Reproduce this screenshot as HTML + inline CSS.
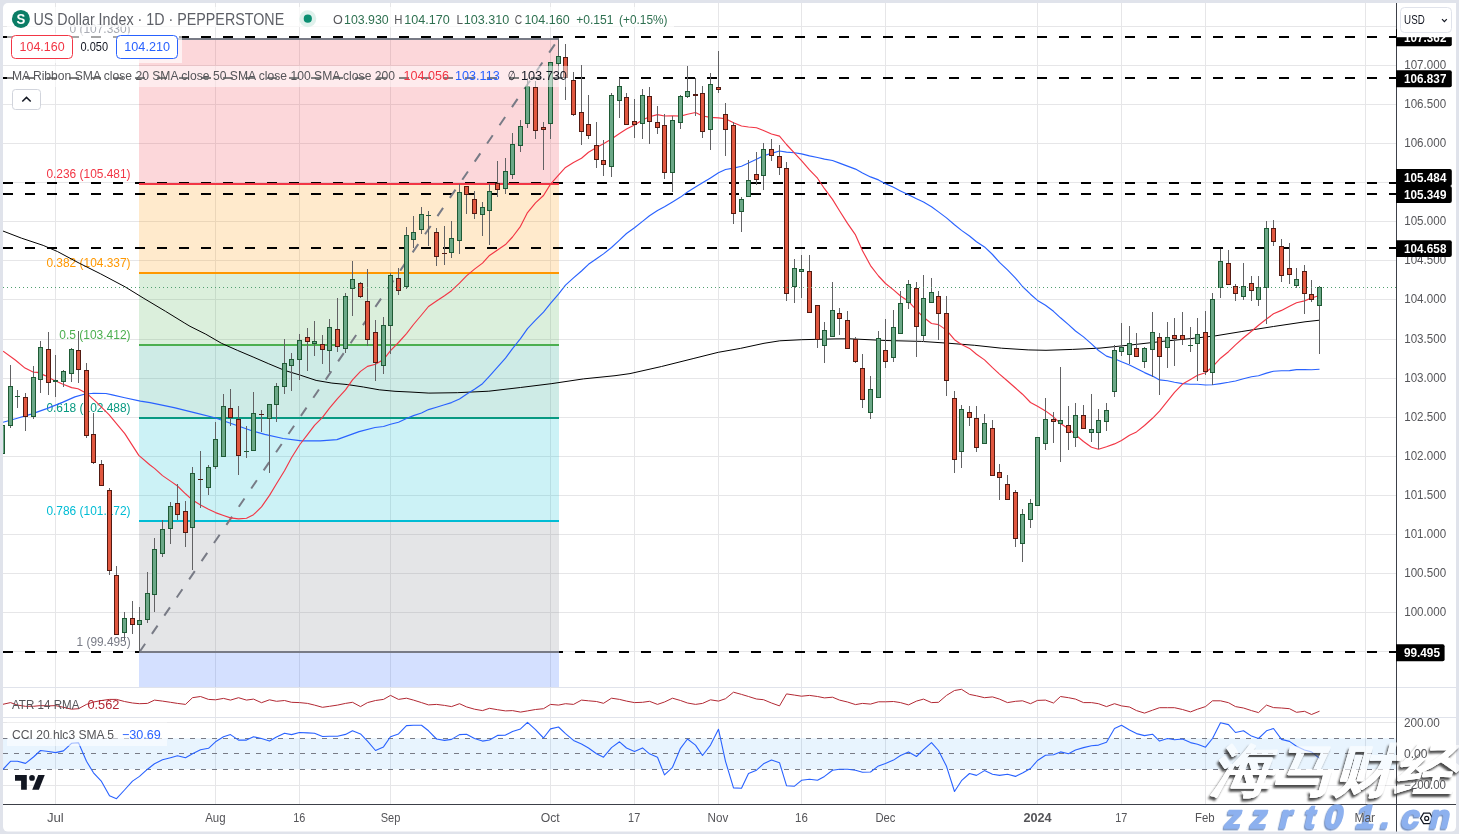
<!DOCTYPE html>
<html><head><meta charset="utf-8"><title>US Dollar Index</title>
<style>
html,body{margin:0;padding:0;background:#e0e3eb;width:1459px;height:834px;overflow:hidden}
svg{position:absolute;left:0;top:0;display:block}
text{font-family:'Liberation Sans', Arial, sans-serif}
</style></head><body>
<svg width="1459" height="834" viewBox="0 0 1459 834">
<defs>
<clipPath id="cm"><rect x="3" y="3" width="1393" height="684"/></clipPath>
<clipPath id="ca"><rect x="3" y="688" width="1393" height="29"/></clipPath>
<clipPath id="cc"><rect x="3" y="718" width="1393" height="86"/></clipPath>
<filter id="wsh" x="-10%" y="-20%" width="130%" height="150%"><feGaussianBlur in="SourceAlpha" stdDeviation="1.1" result="b"/><feOffset in="b" dx="-2.5" dy="3" result="o"/><feComposite in="o" in2="SourceAlpha" operator="out" result="s"/><feFlood flood-color="#3a3a3a" flood-opacity="0.9" result="c"/><feComposite in="c" in2="s" operator="in" result="sh"/><feComponentTransfer in="SourceGraphic" result="g"><feFuncA type="linear" slope="0.62"/></feComponentTransfer><feMerge><feMergeNode in="sh"/><feMergeNode in="g"/></feMerge></filter>
<filter id="bsh" x="-10%" y="-10%" width="130%" height="140%"><feDropShadow dx="-1.2" dy="1.5" stdDeviation="0.7" flood-color="#4d6fae" flood-opacity="0.75"/></filter>
</defs>
<rect x="3" y="3" width="1453" height="828.6" rx="5" fill="#ffffff"/>

<line x1="55.5" y1="3" x2="55.5" y2="804" stroke="#e6e6e8" stroke-width="1"/>
<line x1="215.5" y1="3" x2="215.5" y2="804" stroke="#e6e6e8" stroke-width="1"/>
<line x1="299.5" y1="3" x2="299.5" y2="804" stroke="#e6e6e8" stroke-width="1"/>
<line x1="390.5" y1="3" x2="390.5" y2="804" stroke="#e6e6e8" stroke-width="1"/>
<line x1="550.5" y1="3" x2="550.5" y2="804" stroke="#e6e6e8" stroke-width="1"/>
<line x1="634.5" y1="3" x2="634.5" y2="804" stroke="#e6e6e8" stroke-width="1"/>
<line x1="718.5" y1="3" x2="718.5" y2="804" stroke="#e6e6e8" stroke-width="1"/>
<line x1="801.5" y1="3" x2="801.5" y2="804" stroke="#e6e6e8" stroke-width="1"/>
<line x1="885.5" y1="3" x2="885.5" y2="804" stroke="#e6e6e8" stroke-width="1"/>
<line x1="1037.5" y1="3" x2="1037.5" y2="804" stroke="#e6e6e8" stroke-width="1"/>
<line x1="1121.5" y1="3" x2="1121.5" y2="804" stroke="#e6e6e8" stroke-width="1"/>
<line x1="1205.5" y1="3" x2="1205.5" y2="804" stroke="#e6e6e8" stroke-width="1"/>
<line x1="1365.5" y1="3" x2="1365.5" y2="804" stroke="#e6e6e8" stroke-width="1"/>
<line x1="3" y1="651.5" x2="1396" y2="651.5" stroke="#e6e6e8" stroke-width="1"/>
<line x1="3" y1="612.5" x2="1396" y2="612.5" stroke="#e6e6e8" stroke-width="1"/>
<line x1="3" y1="573.5" x2="1396" y2="573.5" stroke="#e6e6e8" stroke-width="1"/>
<line x1="3" y1="534.5" x2="1396" y2="534.5" stroke="#e6e6e8" stroke-width="1"/>
<line x1="3" y1="495.5" x2="1396" y2="495.5" stroke="#e6e6e8" stroke-width="1"/>
<line x1="3" y1="456.5" x2="1396" y2="456.5" stroke="#e6e6e8" stroke-width="1"/>
<line x1="3" y1="417.5" x2="1396" y2="417.5" stroke="#e6e6e8" stroke-width="1"/>
<line x1="3" y1="378.5" x2="1396" y2="378.5" stroke="#e6e6e8" stroke-width="1"/>
<line x1="3" y1="339.5" x2="1396" y2="339.5" stroke="#e6e6e8" stroke-width="1"/>
<line x1="3" y1="299.5" x2="1396" y2="299.5" stroke="#e6e6e8" stroke-width="1"/>
<line x1="3" y1="260.5" x2="1396" y2="260.5" stroke="#e6e6e8" stroke-width="1"/>
<line x1="3" y1="221.5" x2="1396" y2="221.5" stroke="#e6e6e8" stroke-width="1"/>
<line x1="3" y1="182.5" x2="1396" y2="182.5" stroke="#e6e6e8" stroke-width="1"/>
<line x1="3" y1="143.5" x2="1396" y2="143.5" stroke="#e6e6e8" stroke-width="1"/>
<line x1="3" y1="104.5" x2="1396" y2="104.5" stroke="#e6e6e8" stroke-width="1"/>
<line x1="3" y1="65.5" x2="1396" y2="65.5" stroke="#e6e6e8" stroke-width="1"/>
<line x1="3" y1="26.5" x2="1396" y2="26.5" stroke="#e6e6e8" stroke-width="1"/>
<line x1="3" y1="722.5" x2="1396" y2="722.5" stroke="#e6e6e8" stroke-width="1"/>
<line x1="3" y1="785.5" x2="1396" y2="785.5" stroke="#e6e6e8" stroke-width="1"/>
<g clip-path="url(#cm)">
<rect x="139" y="39" width="420" height="145" fill="#f23645" fill-opacity="0.2"/>
<rect x="139" y="184" width="420" height="89" fill="#ff9800" fill-opacity="0.2"/>
<rect x="139" y="273" width="420" height="72" fill="#4caf50" fill-opacity="0.2"/>
<rect x="139" y="345" width="420" height="73" fill="#089981" fill-opacity="0.2"/>
<rect x="139" y="418" width="420" height="103" fill="#00bcd4" fill-opacity="0.2"/>
<rect x="139" y="521" width="420" height="131" fill="#787b86" fill-opacity="0.2"/>
<rect x="139" y="652" width="420" height="348" fill="#2962ff" fill-opacity="0.2"/>
<text x="69.5" y="32.7" font-size="12.4" fill="#a9acb4" textLength="61.1" lengthAdjust="spacingAndGlyphs">0 (107.330)</text>
<text x="46.4" y="177.7" font-size="12.4" fill="#f23645" textLength="84.2" lengthAdjust="spacingAndGlyphs">0.236 (105.481)</text>
<text x="46.4" y="266.7" font-size="12.4" fill="#ff9800" textLength="84.2" lengthAdjust="spacingAndGlyphs">0.382 (104.337)</text>
<text x="59.3" y="338.7" font-size="12.4" fill="#4caf50" textLength="71.3" lengthAdjust="spacingAndGlyphs">0.5 (103.412)</text>
<text x="46.4" y="411.7" font-size="12.4" fill="#089981" textLength="84.2" lengthAdjust="spacingAndGlyphs">0.618 (102.488)</text>
<text x="46.4" y="514.7" font-size="12.4" fill="#00bcd4" textLength="84.2" lengthAdjust="spacingAndGlyphs">0.786 (101.172)</text>
<text x="76.6" y="645.7" font-size="12.4" fill="#787b86" textLength="54.0" lengthAdjust="spacingAndGlyphs">1 (99.495)</text>
</g>
<g clip-path="url(#cc)">
<rect x="3" y="738.2" width="1393" height="31" fill="#2196f3" fill-opacity="0.1"/>
<line x1="3" y1="738.5" x2="1396" y2="738.5" stroke="#787b86" stroke-width="1" stroke-dasharray="5 6"/>
<line x1="3" y1="753.5" x2="1396" y2="753.5" stroke="#787b86" stroke-width="1" stroke-dasharray="5 6"/>
<line x1="3" y1="769.5" x2="1396" y2="769.5" stroke="#787b86" stroke-width="1" stroke-dasharray="5 6"/>
</g>
<g clip-path="url(#cm)">
<line x1="3" y1="37" x2="1396" y2="37" stroke="#000" stroke-width="2" stroke-dasharray="10 12"/>
<line x1="3" y1="78" x2="1396" y2="78" stroke="#000" stroke-width="2" stroke-dasharray="10 12"/>
<line x1="3" y1="183" x2="1396" y2="183" stroke="#000" stroke-width="2" stroke-dasharray="10 12"/>
<line x1="3" y1="194" x2="1396" y2="194" stroke="#000" stroke-width="2" stroke-dasharray="10 12"/>
<line x1="3" y1="248" x2="1396" y2="248" stroke="#000" stroke-width="2" stroke-dasharray="10 12"/>
<line x1="3" y1="652" x2="1396" y2="652" stroke="#000" stroke-width="2" stroke-dasharray="10 12"/>
</g>
<g clip-path="url(#cm)">
<line x1="139" y1="39" x2="559" y2="39" stroke="#787b86" stroke-width="2"/>
<line x1="139" y1="184" x2="559" y2="184" stroke="#f23645" stroke-width="2"/>
<line x1="139" y1="273" x2="559" y2="273" stroke="#ff9800" stroke-width="2"/>
<line x1="139" y1="345" x2="559" y2="345" stroke="#4caf50" stroke-width="2"/>
<line x1="139" y1="418" x2="559" y2="418" stroke="#089981" stroke-width="2"/>
<line x1="139" y1="521" x2="559" y2="521" stroke="#00bcd4" stroke-width="2"/>
<line x1="139" y1="652" x2="559" y2="652" stroke="#787b86" stroke-width="2"/>
<line x1="139.5" y1="652" x2="558.5" y2="39" stroke="#787b86" stroke-width="2" stroke-dasharray="10 12"/>
</g>
<g clip-path="url(#cm)" fill="none" stroke-linejoin="round">
<polyline points="2.9,231.0 21.6,238.2 43.2,245.4 57.6,251.6 79.1,263.1 100.7,273.9 125.2,286.9 143.9,298.4 165.5,311.3 184.2,322.8 190.0,326.3 205.8,334.2 221.5,343.3 237.3,350.3 253.1,357.0 268.8,363.8 284.6,370.4 300.4,375.2 316.1,380.4 331.9,383.1 347.7,384.6 363.4,387.0 379.2,389.8 395.0,391.3 410.0,392.0 428.9,393.1 457.3,392.7 488.8,391.2 520.4,387.5 551.9,383.6 583.4,378.9 615.0,375.7 630.0,373.6 661.5,366.5 693.1,358.6 718.3,352.3 740.4,348.4 764.0,343.3 779.8,340.8 801.8,339.7 835.0,338.9 850.0,338.8 885.6,340.5 921.3,341.4 948.0,343.2 974.7,345.3 1001.5,348.2 1028.2,349.9 1046.0,350.3 1072.7,349.4 1100.0,348.1 1131.5,344.9 1163.1,341.3 1194.6,338.2 1215.1,335.9 1241.9,331.5 1273.4,326.5 1305.0,321.8 1319.5,320.2" stroke="#000000" stroke-width="1"/>
<polyline points="3.1,422.3 15.6,418.8 31.2,414.1 46.8,408.6 62.4,402.4 74.9,396.9 84.2,394.3 93.6,393.3 106.0,393.5 112.3,394.9 124.8,397.7 140.4,401.1 150.0,402.6 174.1,407.6 196.3,413.1 214.8,417.8 233.3,424.2 251.8,430.7 264.7,434.4 283.2,438.5 301.7,440.9 320.2,440.9 336.9,439.6 359.1,431.6 375.0,427.5 383.5,426.5 390.5,424.3 398.5,422.2 406.5,418.5 413.5,415.6 421.5,413.0 428.5,409.6 436.5,407.2 444.5,404.8 451.5,402.6 459.5,399.0 466.5,394.2 474.5,389.2 482.5,383.7 489.5,376.1 497.5,367.2 505.5,358.2 512.5,348.6 520.5,338.7 527.5,328.6 535.5,320.2 543.5,312.2 550.5,303.4 558.5,294.2 565.5,285.1 573.5,277.9 581.5,271.0 588.5,264.3 596.5,258.8 603.5,253.9 611.5,247.5 619.5,240.1 626.5,233.5 634.5,227.8 642.5,221.4 649.5,215.7 657.5,210.5 664.5,206.7 672.5,201.9 680.5,197.1 687.5,192.0 695.5,187.1 702.5,182.8 710.5,177.9 718.5,172.8 725.5,169.5 733.5,168.1 741.5,166.2 748.5,163.0 756.5,159.3 763.5,155.8 771.5,153.4 779.5,151.0 786.5,152.1 794.5,152.8 801.5,153.9 809.5,155.9 817.5,157.5 824.5,159.1 832.5,160.5 839.5,163.1 847.5,166.1 855.5,169.1 862.5,172.9 870.5,176.9 878.5,179.9 885.5,183.7 893.5,187.3 900.5,190.9 908.5,194.8 916.5,198.8 923.5,202.1 931.5,206.7 938.5,211.9 946.5,217.9 954.5,224.8 961.5,230.4 969.5,236.0 976.5,241.8 984.5,246.9 992.5,254.5 999.5,262.4 1007.5,269.9 1015.5,278.1 1022.5,286.5 1030.5,294.2 1037.5,300.4 1045.5,305.3 1053.5,311.3 1060.5,317.8 1068.5,324.6 1075.5,331.0 1083.5,336.9 1091.5,343.9 1098.5,350.5 1106.5,356.1 1114.5,358.8 1121.5,361.8 1129.5,365.0 1136.5,368.6 1144.5,372.6 1152.5,376.1 1159.5,379.9 1167.5,380.8 1174.5,382.2 1182.5,383.6 1190.5,384.3 1197.5,384.2 1205.5,385.0 1212.5,384.8 1220.5,383.6 1228.5,382.3 1235.5,381.0 1243.5,378.7 1251.5,376.7 1258.5,375.7 1266.5,373.1 1273.5,371.3 1281.5,370.8 1289.5,370.6 1296.5,369.6 1304.5,369.5 1311.5,369.7 1319.5,369.2" stroke="#2962ff" stroke-width="1.15"/>
<polyline points="3.1,351.2 15.6,360.3 25.0,368.1 33.5,372.3 37.4,372.4 45.2,375.6 53.0,379.8 62.4,384.0 71.7,387.6 78.0,388.7 87.3,393.8 96.7,402.4 109.2,414.9 124.8,433.6 138.8,455.4 149.7,464.8 154.5,468.4 162.5,475.6 170.5,481.1 177.5,486.0 185.5,493.8 192.5,500.1 200.5,504.9 208.5,509.3 215.5,512.6 223.5,515.5 230.5,517.9 238.5,518.9 246.5,518.3 253.5,514.7 261.5,506.9 269.5,495.4 276.5,483.8 284.5,470.7 291.5,457.7 299.5,445.0 307.5,434.7 314.5,425.3 322.5,417.4 329.5,408.1 337.5,398.7 345.5,389.9 352.5,379.9 360.5,371.4 367.5,366.4 375.5,364.2 383.5,359.6 390.5,350.6 398.5,342.5 406.5,333.6 413.5,324.5 421.5,315.0 428.5,306.5 436.5,301.1 444.5,295.8 451.5,290.7 459.5,283.2 466.5,275.9 474.5,269.1 482.5,263.1 489.5,255.4 497.5,250.0 505.5,244.6 512.5,237.0 520.5,226.3 527.5,212.6 535.5,202.8 543.5,195.5 550.5,184.1 558.5,175.2 565.5,167.4 573.5,162.4 581.5,158.2 588.5,152.2 596.5,147.5 603.5,143.8 611.5,139.0 619.5,133.5 626.5,129.1 634.5,125.0 642.5,120.1 649.5,116.8 657.5,114.6 664.5,116.0 672.5,115.7 680.5,116.1 687.5,114.2 695.5,112.5 702.5,116.0 710.5,117.4 718.5,117.9 725.5,118.7 733.5,122.8 741.5,126.0 748.5,127.0 756.5,127.8 763.5,130.5 771.5,134.0 779.5,136.1 786.5,144.5 794.5,153.2 801.5,160.6 809.5,169.8 817.5,178.2 824.5,188.7 832.5,199.4 839.5,210.8 847.5,223.4 855.5,234.9 862.5,250.7 870.5,265.6 878.5,276.0 885.5,283.5 893.5,289.9 900.5,296.0 908.5,301.3 916.5,310.1 923.5,317.3 931.5,323.5 938.5,324.6 946.5,330.1 954.5,339.7 961.5,344.5 969.5,348.4 976.5,354.2 984.5,359.9 992.5,367.7 999.5,374.1 1007.5,381.0 1015.5,388.0 1022.5,394.2 1030.5,402.5 1037.5,406.3 1045.5,410.9 1053.5,416.8 1060.5,423.6 1068.5,428.8 1075.5,434.7 1083.5,441.5 1091.5,447.3 1098.5,449.3 1106.5,446.8 1114.5,443.9 1121.5,440.4 1129.5,435.2 1136.5,431.9 1144.5,425.5 1152.5,418.3 1159.5,411.1 1167.5,401.1 1174.5,392.3 1182.5,384.1 1190.5,379.5 1197.5,375.3 1205.5,372.8 1212.5,366.8 1220.5,358.2 1228.5,351.7 1235.5,344.9 1243.5,337.8 1251.5,331.3 1258.5,325.2 1266.5,319.0 1273.5,313.8 1281.5,310.4 1289.5,306.3 1296.5,302.8 1304.5,300.9 1311.5,298.0 1319.5,295.5" stroke="#f23645" stroke-width="1.15"/>
</g>
<g clip-path="url(#cm)" shape-rendering="crispEdges">
<rect x="2" y="420" width="1" height="5" fill="#626264"/>
<rect x="2" y="454" width="1" height="3" fill="#626264"/>
<rect x="0" y="425" width="5" height="29" fill="#1f5a35"/>
<rect x="1" y="426" width="3" height="27" fill="#6ba887"/>
<rect x="10" y="365" width="1" height="21" fill="#626264"/>
<rect x="10" y="426" width="1" height="2" fill="#626264"/>
<rect x="8" y="386" width="5" height="40" fill="#1f5a35"/>
<rect x="9" y="387" width="3" height="38" fill="#6ba887"/>
<rect x="17" y="390" width="1" height="6" fill="#626264"/>
<rect x="17" y="397" width="1" height="11" fill="#626264"/>
<rect x="15" y="396" width="5" height="1" fill="#1f5a35"/>
<rect x="25" y="393" width="1" height="4" fill="#626264"/>
<rect x="25" y="417" width="1" height="14" fill="#626264"/>
<rect x="23" y="397" width="5" height="20" fill="#521a12"/>
<rect x="24" y="398" width="3" height="18" fill="#e0573f"/>
<rect x="33" y="366" width="1" height="11" fill="#626264"/>
<rect x="33" y="417" width="1" height="2" fill="#626264"/>
<rect x="31" y="377" width="5" height="40" fill="#1f5a35"/>
<rect x="32" y="378" width="3" height="38" fill="#6ba887"/>
<rect x="40" y="341" width="1" height="6" fill="#626264"/>
<rect x="40" y="380" width="1" height="13" fill="#626264"/>
<rect x="38" y="347" width="5" height="33" fill="#1f5a35"/>
<rect x="39" y="348" width="3" height="31" fill="#6ba887"/>
<rect x="48" y="332" width="1" height="17" fill="#626264"/>
<rect x="48" y="383" width="1" height="12" fill="#626264"/>
<rect x="46" y="349" width="5" height="34" fill="#521a12"/>
<rect x="47" y="350" width="3" height="32" fill="#e0573f"/>
<rect x="55" y="355" width="1" height="25" fill="#626264"/>
<rect x="55" y="382" width="1" height="15" fill="#626264"/>
<rect x="53" y="380" width="5" height="2" fill="#1f5a35"/>
<rect x="63" y="370" width="1" height="1" fill="#626264"/>
<rect x="63" y="382" width="1" height="5" fill="#626264"/>
<rect x="61" y="371" width="5" height="11" fill="#1f5a35"/>
<rect x="62" y="372" width="3" height="9" fill="#6ba887"/>
<rect x="71" y="348" width="1" height="1" fill="#626264"/>
<rect x="71" y="374" width="1" height="8" fill="#626264"/>
<rect x="69" y="349" width="5" height="25" fill="#1f5a35"/>
<rect x="70" y="350" width="3" height="23" fill="#6ba887"/>
<rect x="78" y="331" width="1" height="19" fill="#626264"/>
<rect x="78" y="370" width="1" height="13" fill="#626264"/>
<rect x="76" y="350" width="5" height="20" fill="#521a12"/>
<rect x="77" y="351" width="3" height="18" fill="#e0573f"/>
<rect x="86" y="363" width="1" height="7" fill="#626264"/>
<rect x="86" y="436" width="1" height="2" fill="#626264"/>
<rect x="84" y="370" width="5" height="66" fill="#521a12"/>
<rect x="85" y="371" width="3" height="64" fill="#e0573f"/>
<rect x="93" y="413" width="1" height="21" fill="#626264"/>
<rect x="93" y="463" width="1" height="1" fill="#626264"/>
<rect x="91" y="434" width="5" height="29" fill="#521a12"/>
<rect x="92" y="435" width="3" height="27" fill="#e0573f"/>
<rect x="101" y="460" width="1" height="4" fill="#626264"/>
<rect x="99" y="464" width="5" height="22" fill="#521a12"/>
<rect x="100" y="465" width="3" height="20" fill="#e0573f"/>
<rect x="109" y="488" width="1" height="2" fill="#626264"/>
<rect x="109" y="571" width="1" height="4" fill="#626264"/>
<rect x="107" y="490" width="5" height="81" fill="#521a12"/>
<rect x="108" y="491" width="3" height="79" fill="#e0573f"/>
<rect x="116" y="566" width="1" height="9" fill="#626264"/>
<rect x="114" y="575" width="5" height="60" fill="#521a12"/>
<rect x="115" y="576" width="3" height="58" fill="#e0573f"/>
<rect x="124" y="612" width="1" height="6" fill="#626264"/>
<rect x="124" y="633" width="1" height="7" fill="#626264"/>
<rect x="122" y="618" width="5" height="15" fill="#1f5a35"/>
<rect x="123" y="619" width="3" height="13" fill="#6ba887"/>
<rect x="132" y="601" width="1" height="17" fill="#626264"/>
<rect x="132" y="625" width="1" height="9" fill="#626264"/>
<rect x="130" y="618" width="5" height="7" fill="#521a12"/>
<rect x="131" y="619" width="3" height="5" fill="#e0573f"/>
<rect x="139" y="607" width="1" height="13" fill="#626264"/>
<rect x="139" y="625" width="1" height="27" fill="#626264"/>
<rect x="137" y="620" width="5" height="5" fill="#1f5a35"/>
<rect x="138" y="621" width="3" height="3" fill="#6ba887"/>
<rect x="147" y="572" width="1" height="21" fill="#626264"/>
<rect x="147" y="620" width="1" height="3" fill="#626264"/>
<rect x="145" y="593" width="5" height="27" fill="#1f5a35"/>
<rect x="146" y="594" width="3" height="25" fill="#6ba887"/>
<rect x="154" y="538" width="1" height="11" fill="#626264"/>
<rect x="154" y="595" width="1" height="17" fill="#626264"/>
<rect x="152" y="549" width="5" height="46" fill="#1f5a35"/>
<rect x="153" y="550" width="3" height="44" fill="#6ba887"/>
<rect x="162" y="520" width="1" height="9" fill="#626264"/>
<rect x="162" y="554" width="1" height="3" fill="#626264"/>
<rect x="160" y="529" width="5" height="25" fill="#1f5a35"/>
<rect x="161" y="530" width="3" height="23" fill="#6ba887"/>
<rect x="170" y="502" width="1" height="4" fill="#626264"/>
<rect x="170" y="529" width="1" height="15" fill="#626264"/>
<rect x="168" y="506" width="5" height="23" fill="#1f5a35"/>
<rect x="169" y="507" width="3" height="21" fill="#6ba887"/>
<rect x="177" y="484" width="1" height="19" fill="#626264"/>
<rect x="177" y="515" width="1" height="5" fill="#626264"/>
<rect x="175" y="503" width="5" height="12" fill="#521a12"/>
<rect x="176" y="504" width="3" height="10" fill="#e0573f"/>
<rect x="185" y="501" width="1" height="10" fill="#626264"/>
<rect x="185" y="533" width="1" height="14" fill="#626264"/>
<rect x="183" y="511" width="5" height="22" fill="#521a12"/>
<rect x="184" y="512" width="3" height="20" fill="#e0573f"/>
<rect x="192" y="467" width="1" height="6" fill="#626264"/>
<rect x="192" y="528" width="1" height="42" fill="#626264"/>
<rect x="190" y="473" width="5" height="55" fill="#1f5a35"/>
<rect x="191" y="474" width="3" height="53" fill="#6ba887"/>
<rect x="200" y="451" width="1" height="28" fill="#626264"/>
<rect x="200" y="480" width="1" height="28" fill="#626264"/>
<rect x="198" y="479" width="5" height="1" fill="#521a12"/>
<rect x="208" y="465" width="1" height="2" fill="#626264"/>
<rect x="208" y="488" width="1" height="7" fill="#626264"/>
<rect x="206" y="467" width="5" height="21" fill="#1f5a35"/>
<rect x="207" y="468" width="3" height="19" fill="#6ba887"/>
<rect x="215" y="422" width="1" height="17" fill="#626264"/>
<rect x="215" y="467" width="1" height="2" fill="#626264"/>
<rect x="213" y="439" width="5" height="28" fill="#1f5a35"/>
<rect x="214" y="440" width="3" height="26" fill="#6ba887"/>
<rect x="223" y="394" width="1" height="12" fill="#626264"/>
<rect x="221" y="406" width="5" height="51" fill="#1f5a35"/>
<rect x="222" y="407" width="3" height="49" fill="#6ba887"/>
<rect x="230" y="389" width="1" height="19" fill="#626264"/>
<rect x="230" y="418" width="1" height="8" fill="#626264"/>
<rect x="228" y="408" width="5" height="10" fill="#521a12"/>
<rect x="229" y="409" width="3" height="8" fill="#e0573f"/>
<rect x="238" y="406" width="1" height="13" fill="#626264"/>
<rect x="238" y="456" width="1" height="19" fill="#626264"/>
<rect x="236" y="419" width="5" height="37" fill="#521a12"/>
<rect x="237" y="420" width="3" height="35" fill="#e0573f"/>
<rect x="246" y="426" width="1" height="25" fill="#626264"/>
<rect x="246" y="452" width="1" height="6" fill="#626264"/>
<rect x="244" y="451" width="5" height="1" fill="#1f5a35"/>
<rect x="253" y="392" width="1" height="21" fill="#626264"/>
<rect x="251" y="413" width="5" height="38" fill="#1f5a35"/>
<rect x="252" y="414" width="3" height="36" fill="#6ba887"/>
<rect x="261" y="410" width="1" height="4" fill="#626264"/>
<rect x="261" y="415" width="1" height="17" fill="#626264"/>
<rect x="259" y="414" width="5" height="1" fill="#521a12"/>
<rect x="269" y="419" width="1" height="54" fill="#626264"/>
<rect x="267" y="404" width="5" height="15" fill="#1f5a35"/>
<rect x="268" y="405" width="3" height="13" fill="#6ba887"/>
<rect x="276" y="383" width="1" height="3" fill="#626264"/>
<rect x="276" y="405" width="1" height="17" fill="#626264"/>
<rect x="274" y="386" width="5" height="19" fill="#1f5a35"/>
<rect x="275" y="387" width="3" height="17" fill="#6ba887"/>
<rect x="284" y="339" width="1" height="24" fill="#626264"/>
<rect x="284" y="387" width="1" height="7" fill="#626264"/>
<rect x="282" y="363" width="5" height="24" fill="#1f5a35"/>
<rect x="283" y="364" width="3" height="22" fill="#6ba887"/>
<rect x="291" y="353" width="1" height="6" fill="#626264"/>
<rect x="291" y="366" width="1" height="25" fill="#626264"/>
<rect x="289" y="359" width="5" height="7" fill="#1f5a35"/>
<rect x="290" y="360" width="3" height="5" fill="#6ba887"/>
<rect x="299" y="334" width="1" height="6" fill="#626264"/>
<rect x="299" y="360" width="1" height="20" fill="#626264"/>
<rect x="297" y="340" width="5" height="20" fill="#1f5a35"/>
<rect x="298" y="341" width="3" height="18" fill="#6ba887"/>
<rect x="307" y="328" width="1" height="9" fill="#626264"/>
<rect x="307" y="342" width="1" height="29" fill="#626264"/>
<rect x="305" y="337" width="5" height="5" fill="#521a12"/>
<rect x="306" y="338" width="3" height="3" fill="#e0573f"/>
<rect x="314" y="321" width="1" height="20" fill="#626264"/>
<rect x="314" y="344" width="1" height="12" fill="#626264"/>
<rect x="312" y="341" width="5" height="3" fill="#1f5a35"/>
<rect x="313" y="342" width="3" height="1" fill="#6ba887"/>
<rect x="322" y="335" width="1" height="9" fill="#626264"/>
<rect x="322" y="350" width="1" height="14" fill="#626264"/>
<rect x="320" y="344" width="5" height="6" fill="#521a12"/>
<rect x="321" y="345" width="3" height="4" fill="#e0573f"/>
<rect x="329" y="319" width="1" height="8" fill="#626264"/>
<rect x="329" y="351" width="1" height="21" fill="#626264"/>
<rect x="327" y="327" width="5" height="24" fill="#1f5a35"/>
<rect x="328" y="328" width="3" height="22" fill="#6ba887"/>
<rect x="337" y="298" width="1" height="31" fill="#626264"/>
<rect x="337" y="347" width="1" height="5" fill="#626264"/>
<rect x="335" y="329" width="5" height="18" fill="#521a12"/>
<rect x="336" y="330" width="3" height="16" fill="#e0573f"/>
<rect x="345" y="293" width="1" height="3" fill="#626264"/>
<rect x="345" y="349" width="1" height="4" fill="#626264"/>
<rect x="343" y="296" width="5" height="53" fill="#1f5a35"/>
<rect x="344" y="297" width="3" height="51" fill="#6ba887"/>
<rect x="352" y="261" width="1" height="18" fill="#626264"/>
<rect x="352" y="289" width="1" height="27" fill="#626264"/>
<rect x="350" y="279" width="5" height="10" fill="#1f5a35"/>
<rect x="351" y="280" width="3" height="8" fill="#6ba887"/>
<rect x="360" y="282" width="1" height="1" fill="#626264"/>
<rect x="360" y="297" width="1" height="1" fill="#626264"/>
<rect x="358" y="283" width="5" height="14" fill="#521a12"/>
<rect x="359" y="284" width="3" height="12" fill="#e0573f"/>
<rect x="367" y="269" width="1" height="32" fill="#626264"/>
<rect x="367" y="340" width="1" height="6" fill="#626264"/>
<rect x="365" y="301" width="5" height="39" fill="#521a12"/>
<rect x="366" y="302" width="3" height="37" fill="#e0573f"/>
<rect x="375" y="320" width="1" height="12" fill="#626264"/>
<rect x="375" y="363" width="1" height="18" fill="#626264"/>
<rect x="373" y="332" width="5" height="31" fill="#521a12"/>
<rect x="374" y="333" width="3" height="29" fill="#e0573f"/>
<rect x="383" y="317" width="1" height="8" fill="#626264"/>
<rect x="383" y="366" width="1" height="8" fill="#626264"/>
<rect x="381" y="325" width="5" height="41" fill="#1f5a35"/>
<rect x="382" y="326" width="3" height="39" fill="#6ba887"/>
<rect x="390" y="273" width="1" height="2" fill="#626264"/>
<rect x="390" y="326" width="1" height="28" fill="#626264"/>
<rect x="388" y="275" width="5" height="51" fill="#1f5a35"/>
<rect x="389" y="276" width="3" height="49" fill="#6ba887"/>
<rect x="398" y="268" width="1" height="10" fill="#626264"/>
<rect x="398" y="291" width="1" height="4" fill="#626264"/>
<rect x="396" y="278" width="5" height="13" fill="#521a12"/>
<rect x="397" y="279" width="3" height="11" fill="#e0573f"/>
<rect x="406" y="227" width="1" height="8" fill="#626264"/>
<rect x="406" y="287" width="1" height="2" fill="#626264"/>
<rect x="404" y="235" width="5" height="52" fill="#1f5a35"/>
<rect x="405" y="236" width="3" height="50" fill="#6ba887"/>
<rect x="413" y="216" width="1" height="16" fill="#626264"/>
<rect x="413" y="240" width="1" height="8" fill="#626264"/>
<rect x="411" y="232" width="5" height="8" fill="#1f5a35"/>
<rect x="412" y="233" width="3" height="6" fill="#6ba887"/>
<rect x="421" y="207" width="1" height="7" fill="#626264"/>
<rect x="421" y="230" width="1" height="4" fill="#626264"/>
<rect x="419" y="214" width="5" height="16" fill="#1f5a35"/>
<rect x="420" y="215" width="3" height="14" fill="#6ba887"/>
<rect x="428" y="211" width="1" height="4" fill="#626264"/>
<rect x="428" y="216" width="1" height="30" fill="#626264"/>
<rect x="426" y="215" width="5" height="1" fill="#1f5a35"/>
<rect x="436" y="228" width="1" height="4" fill="#626264"/>
<rect x="436" y="257" width="1" height="9" fill="#626264"/>
<rect x="434" y="232" width="5" height="25" fill="#521a12"/>
<rect x="435" y="233" width="3" height="23" fill="#e0573f"/>
<rect x="444" y="226" width="1" height="27" fill="#626264"/>
<rect x="444" y="254" width="1" height="11" fill="#626264"/>
<rect x="442" y="253" width="5" height="1" fill="#521a12"/>
<rect x="451" y="221" width="1" height="17" fill="#626264"/>
<rect x="451" y="253" width="1" height="5" fill="#626264"/>
<rect x="449" y="238" width="5" height="15" fill="#1f5a35"/>
<rect x="450" y="239" width="3" height="13" fill="#6ba887"/>
<rect x="459" y="184" width="1" height="8" fill="#626264"/>
<rect x="459" y="241" width="1" height="13" fill="#626264"/>
<rect x="457" y="192" width="5" height="49" fill="#1f5a35"/>
<rect x="458" y="193" width="3" height="47" fill="#6ba887"/>
<rect x="466" y="195" width="1" height="19" fill="#626264"/>
<rect x="464" y="186" width="5" height="9" fill="#521a12"/>
<rect x="465" y="187" width="3" height="7" fill="#e0573f"/>
<rect x="474" y="191" width="1" height="8" fill="#626264"/>
<rect x="474" y="214" width="1" height="5" fill="#626264"/>
<rect x="472" y="199" width="5" height="15" fill="#521a12"/>
<rect x="473" y="200" width="3" height="13" fill="#e0573f"/>
<rect x="482" y="202" width="1" height="5" fill="#626264"/>
<rect x="482" y="215" width="1" height="21" fill="#626264"/>
<rect x="480" y="207" width="5" height="8" fill="#1f5a35"/>
<rect x="481" y="208" width="3" height="6" fill="#6ba887"/>
<rect x="489" y="184" width="1" height="7" fill="#626264"/>
<rect x="489" y="211" width="1" height="34" fill="#626264"/>
<rect x="487" y="191" width="5" height="20" fill="#1f5a35"/>
<rect x="488" y="192" width="3" height="18" fill="#6ba887"/>
<rect x="497" y="161" width="1" height="22" fill="#626264"/>
<rect x="497" y="190" width="1" height="7" fill="#626264"/>
<rect x="495" y="183" width="5" height="7" fill="#521a12"/>
<rect x="496" y="184" width="3" height="5" fill="#e0573f"/>
<rect x="505" y="158" width="1" height="13" fill="#626264"/>
<rect x="505" y="189" width="1" height="5" fill="#626264"/>
<rect x="503" y="171" width="5" height="18" fill="#1f5a35"/>
<rect x="504" y="172" width="3" height="16" fill="#6ba887"/>
<rect x="512" y="133" width="1" height="11" fill="#626264"/>
<rect x="512" y="175" width="1" height="4" fill="#626264"/>
<rect x="510" y="144" width="5" height="31" fill="#1f5a35"/>
<rect x="511" y="145" width="3" height="29" fill="#6ba887"/>
<rect x="520" y="120" width="1" height="6" fill="#626264"/>
<rect x="520" y="146" width="1" height="6" fill="#626264"/>
<rect x="518" y="126" width="5" height="20" fill="#1f5a35"/>
<rect x="519" y="127" width="3" height="18" fill="#6ba887"/>
<rect x="527" y="78" width="1" height="8" fill="#626264"/>
<rect x="527" y="124" width="1" height="4" fill="#626264"/>
<rect x="525" y="86" width="5" height="38" fill="#1f5a35"/>
<rect x="526" y="87" width="3" height="36" fill="#6ba887"/>
<rect x="535" y="81" width="1" height="6" fill="#626264"/>
<rect x="535" y="131" width="1" height="8" fill="#626264"/>
<rect x="533" y="87" width="5" height="44" fill="#521a12"/>
<rect x="534" y="88" width="3" height="42" fill="#e0573f"/>
<rect x="543" y="122" width="1" height="5" fill="#626264"/>
<rect x="543" y="130" width="1" height="40" fill="#626264"/>
<rect x="541" y="127" width="5" height="3" fill="#521a12"/>
<rect x="542" y="128" width="3" height="1" fill="#e0573f"/>
<rect x="550" y="124" width="1" height="15" fill="#626264"/>
<rect x="548" y="62" width="5" height="62" fill="#1f5a35"/>
<rect x="549" y="63" width="3" height="60" fill="#6ba887"/>
<rect x="558" y="39" width="1" height="17" fill="#626264"/>
<rect x="558" y="64" width="1" height="14" fill="#626264"/>
<rect x="556" y="56" width="5" height="8" fill="#1f5a35"/>
<rect x="557" y="57" width="3" height="6" fill="#6ba887"/>
<rect x="565" y="44" width="1" height="13" fill="#626264"/>
<rect x="565" y="78" width="1" height="22" fill="#626264"/>
<rect x="563" y="57" width="5" height="21" fill="#521a12"/>
<rect x="564" y="58" width="3" height="19" fill="#e0573f"/>
<rect x="573" y="72" width="1" height="8" fill="#626264"/>
<rect x="573" y="115" width="1" height="1" fill="#626264"/>
<rect x="571" y="80" width="5" height="35" fill="#521a12"/>
<rect x="572" y="81" width="3" height="33" fill="#e0573f"/>
<rect x="581" y="65" width="1" height="47" fill="#626264"/>
<rect x="581" y="132" width="1" height="13" fill="#626264"/>
<rect x="579" y="112" width="5" height="20" fill="#521a12"/>
<rect x="580" y="113" width="3" height="18" fill="#e0573f"/>
<rect x="588" y="95" width="1" height="29" fill="#626264"/>
<rect x="588" y="136" width="1" height="3" fill="#626264"/>
<rect x="586" y="124" width="5" height="12" fill="#521a12"/>
<rect x="587" y="125" width="3" height="10" fill="#e0573f"/>
<rect x="596" y="122" width="1" height="23" fill="#626264"/>
<rect x="596" y="160" width="1" height="8" fill="#626264"/>
<rect x="594" y="145" width="5" height="15" fill="#521a12"/>
<rect x="595" y="146" width="3" height="13" fill="#e0573f"/>
<rect x="603" y="140" width="1" height="20" fill="#626264"/>
<rect x="603" y="165" width="1" height="11" fill="#626264"/>
<rect x="601" y="160" width="5" height="5" fill="#521a12"/>
<rect x="602" y="161" width="3" height="3" fill="#e0573f"/>
<rect x="611" y="93" width="1" height="2" fill="#626264"/>
<rect x="611" y="167" width="1" height="10" fill="#626264"/>
<rect x="609" y="95" width="5" height="72" fill="#1f5a35"/>
<rect x="610" y="96" width="3" height="70" fill="#6ba887"/>
<rect x="619" y="78" width="1" height="8" fill="#626264"/>
<rect x="619" y="101" width="1" height="17" fill="#626264"/>
<rect x="617" y="86" width="5" height="15" fill="#1f5a35"/>
<rect x="618" y="87" width="3" height="13" fill="#6ba887"/>
<rect x="626" y="93" width="1" height="4" fill="#626264"/>
<rect x="624" y="97" width="5" height="28" fill="#521a12"/>
<rect x="625" y="98" width="3" height="26" fill="#e0573f"/>
<rect x="634" y="99" width="1" height="22" fill="#626264"/>
<rect x="634" y="125" width="1" height="13" fill="#626264"/>
<rect x="632" y="121" width="5" height="4" fill="#521a12"/>
<rect x="633" y="122" width="3" height="2" fill="#e0573f"/>
<rect x="642" y="89" width="1" height="6" fill="#626264"/>
<rect x="642" y="124" width="1" height="15" fill="#626264"/>
<rect x="640" y="95" width="5" height="29" fill="#1f5a35"/>
<rect x="641" y="96" width="3" height="27" fill="#6ba887"/>
<rect x="649" y="87" width="1" height="9" fill="#626264"/>
<rect x="649" y="122" width="1" height="22" fill="#626264"/>
<rect x="647" y="96" width="5" height="26" fill="#521a12"/>
<rect x="648" y="97" width="3" height="24" fill="#e0573f"/>
<rect x="657" y="106" width="1" height="16" fill="#626264"/>
<rect x="657" y="128" width="1" height="6" fill="#626264"/>
<rect x="655" y="122" width="5" height="6" fill="#521a12"/>
<rect x="656" y="123" width="3" height="4" fill="#e0573f"/>
<rect x="664" y="114" width="1" height="11" fill="#626264"/>
<rect x="664" y="173" width="1" height="6" fill="#626264"/>
<rect x="662" y="125" width="5" height="48" fill="#521a12"/>
<rect x="663" y="126" width="3" height="46" fill="#e0573f"/>
<rect x="672" y="116" width="1" height="4" fill="#626264"/>
<rect x="672" y="173" width="1" height="19" fill="#626264"/>
<rect x="670" y="120" width="5" height="53" fill="#1f5a35"/>
<rect x="671" y="121" width="3" height="51" fill="#6ba887"/>
<rect x="680" y="95" width="1" height="1" fill="#626264"/>
<rect x="680" y="123" width="1" height="6" fill="#626264"/>
<rect x="678" y="96" width="5" height="27" fill="#1f5a35"/>
<rect x="679" y="97" width="3" height="25" fill="#6ba887"/>
<rect x="687" y="66" width="1" height="25" fill="#626264"/>
<rect x="687" y="97" width="1" height="1" fill="#626264"/>
<rect x="685" y="91" width="5" height="6" fill="#1f5a35"/>
<rect x="686" y="92" width="3" height="4" fill="#6ba887"/>
<rect x="695" y="78" width="1" height="16" fill="#626264"/>
<rect x="695" y="96" width="1" height="20" fill="#626264"/>
<rect x="693" y="94" width="5" height="2" fill="#521a12"/>
<rect x="702" y="86" width="1" height="7" fill="#626264"/>
<rect x="702" y="132" width="1" height="6" fill="#626264"/>
<rect x="700" y="93" width="5" height="39" fill="#521a12"/>
<rect x="701" y="94" width="3" height="37" fill="#e0573f"/>
<rect x="710" y="73" width="1" height="11" fill="#626264"/>
<rect x="710" y="130" width="1" height="20" fill="#626264"/>
<rect x="708" y="84" width="5" height="46" fill="#1f5a35"/>
<rect x="709" y="85" width="3" height="44" fill="#6ba887"/>
<rect x="718" y="51" width="1" height="36" fill="#626264"/>
<rect x="718" y="90" width="1" height="3" fill="#626264"/>
<rect x="716" y="87" width="5" height="3" fill="#521a12"/>
<rect x="717" y="88" width="3" height="1" fill="#e0573f"/>
<rect x="725" y="103" width="1" height="11" fill="#626264"/>
<rect x="725" y="130" width="1" height="26" fill="#626264"/>
<rect x="723" y="114" width="5" height="16" fill="#521a12"/>
<rect x="724" y="115" width="3" height="14" fill="#e0573f"/>
<rect x="733" y="122" width="1" height="3" fill="#626264"/>
<rect x="733" y="214" width="1" height="10" fill="#626264"/>
<rect x="731" y="125" width="5" height="89" fill="#521a12"/>
<rect x="732" y="126" width="3" height="87" fill="#e0573f"/>
<rect x="741" y="197" width="1" height="2" fill="#626264"/>
<rect x="741" y="212" width="1" height="20" fill="#626264"/>
<rect x="739" y="199" width="5" height="13" fill="#1f5a35"/>
<rect x="740" y="200" width="3" height="11" fill="#6ba887"/>
<rect x="748" y="160" width="1" height="20" fill="#626264"/>
<rect x="746" y="180" width="5" height="17" fill="#1f5a35"/>
<rect x="747" y="181" width="3" height="15" fill="#6ba887"/>
<rect x="756" y="152" width="1" height="22" fill="#626264"/>
<rect x="756" y="180" width="1" height="5" fill="#626264"/>
<rect x="754" y="174" width="5" height="6" fill="#521a12"/>
<rect x="755" y="175" width="3" height="4" fill="#e0573f"/>
<rect x="763" y="143" width="1" height="6" fill="#626264"/>
<rect x="763" y="176" width="1" height="14" fill="#626264"/>
<rect x="761" y="149" width="5" height="27" fill="#1f5a35"/>
<rect x="762" y="150" width="3" height="25" fill="#6ba887"/>
<rect x="771" y="139" width="1" height="10" fill="#626264"/>
<rect x="771" y="156" width="1" height="5" fill="#626264"/>
<rect x="769" y="149" width="5" height="7" fill="#521a12"/>
<rect x="770" y="150" width="3" height="5" fill="#e0573f"/>
<rect x="779" y="145" width="1" height="11" fill="#626264"/>
<rect x="779" y="168" width="1" height="7" fill="#626264"/>
<rect x="777" y="156" width="5" height="12" fill="#521a12"/>
<rect x="778" y="157" width="3" height="10" fill="#e0573f"/>
<rect x="786" y="162" width="1" height="6" fill="#626264"/>
<rect x="786" y="294" width="1" height="7" fill="#626264"/>
<rect x="784" y="168" width="5" height="126" fill="#521a12"/>
<rect x="785" y="169" width="3" height="124" fill="#e0573f"/>
<rect x="794" y="259" width="1" height="9" fill="#626264"/>
<rect x="794" y="287" width="1" height="16" fill="#626264"/>
<rect x="792" y="268" width="5" height="19" fill="#1f5a35"/>
<rect x="793" y="269" width="3" height="17" fill="#6ba887"/>
<rect x="801" y="255" width="1" height="14" fill="#626264"/>
<rect x="801" y="272" width="1" height="26" fill="#626264"/>
<rect x="799" y="269" width="5" height="3" fill="#1f5a35"/>
<rect x="800" y="270" width="3" height="1" fill="#6ba887"/>
<rect x="809" y="255" width="1" height="16" fill="#626264"/>
<rect x="807" y="271" width="5" height="42" fill="#521a12"/>
<rect x="808" y="272" width="3" height="40" fill="#e0573f"/>
<rect x="817" y="340" width="1" height="8" fill="#626264"/>
<rect x="815" y="305" width="5" height="35" fill="#521a12"/>
<rect x="816" y="306" width="3" height="33" fill="#e0573f"/>
<rect x="824" y="322" width="1" height="8" fill="#626264"/>
<rect x="824" y="346" width="1" height="17" fill="#626264"/>
<rect x="822" y="330" width="5" height="16" fill="#1f5a35"/>
<rect x="823" y="331" width="3" height="14" fill="#6ba887"/>
<rect x="832" y="282" width="1" height="28" fill="#626264"/>
<rect x="830" y="310" width="5" height="27" fill="#1f5a35"/>
<rect x="831" y="311" width="3" height="25" fill="#6ba887"/>
<rect x="839" y="308" width="1" height="5" fill="#626264"/>
<rect x="839" y="319" width="1" height="16" fill="#626264"/>
<rect x="837" y="313" width="5" height="6" fill="#521a12"/>
<rect x="838" y="314" width="3" height="4" fill="#e0573f"/>
<rect x="847" y="311" width="1" height="9" fill="#626264"/>
<rect x="845" y="320" width="5" height="29" fill="#521a12"/>
<rect x="846" y="321" width="3" height="27" fill="#e0573f"/>
<rect x="855" y="337" width="1" height="2" fill="#626264"/>
<rect x="855" y="362" width="1" height="1" fill="#626264"/>
<rect x="853" y="339" width="5" height="23" fill="#521a12"/>
<rect x="854" y="340" width="3" height="21" fill="#e0573f"/>
<rect x="862" y="354" width="1" height="14" fill="#626264"/>
<rect x="862" y="400" width="1" height="8" fill="#626264"/>
<rect x="860" y="368" width="5" height="32" fill="#521a12"/>
<rect x="861" y="369" width="3" height="30" fill="#e0573f"/>
<rect x="870" y="376" width="1" height="13" fill="#626264"/>
<rect x="870" y="413" width="1" height="6" fill="#626264"/>
<rect x="868" y="389" width="5" height="24" fill="#1f5a35"/>
<rect x="869" y="390" width="3" height="22" fill="#6ba887"/>
<rect x="878" y="331" width="1" height="7" fill="#626264"/>
<rect x="876" y="338" width="5" height="60" fill="#1f5a35"/>
<rect x="877" y="339" width="3" height="58" fill="#6ba887"/>
<rect x="885" y="319" width="1" height="31" fill="#626264"/>
<rect x="885" y="362" width="1" height="6" fill="#626264"/>
<rect x="883" y="350" width="5" height="12" fill="#521a12"/>
<rect x="884" y="351" width="3" height="10" fill="#e0573f"/>
<rect x="893" y="310" width="1" height="17" fill="#626264"/>
<rect x="893" y="358" width="1" height="4" fill="#626264"/>
<rect x="891" y="327" width="5" height="31" fill="#1f5a35"/>
<rect x="892" y="328" width="3" height="29" fill="#6ba887"/>
<rect x="900" y="291" width="1" height="12" fill="#626264"/>
<rect x="898" y="303" width="5" height="31" fill="#1f5a35"/>
<rect x="899" y="304" width="3" height="29" fill="#6ba887"/>
<rect x="908" y="280" width="1" height="4" fill="#626264"/>
<rect x="908" y="303" width="1" height="6" fill="#626264"/>
<rect x="906" y="284" width="5" height="19" fill="#1f5a35"/>
<rect x="907" y="285" width="3" height="17" fill="#6ba887"/>
<rect x="916" y="282" width="1" height="6" fill="#626264"/>
<rect x="916" y="327" width="1" height="30" fill="#626264"/>
<rect x="914" y="288" width="5" height="39" fill="#521a12"/>
<rect x="915" y="289" width="3" height="37" fill="#e0573f"/>
<rect x="923" y="275" width="1" height="23" fill="#626264"/>
<rect x="923" y="336" width="1" height="6" fill="#626264"/>
<rect x="921" y="298" width="5" height="38" fill="#1f5a35"/>
<rect x="922" y="299" width="3" height="36" fill="#6ba887"/>
<rect x="931" y="278" width="1" height="14" fill="#626264"/>
<rect x="929" y="292" width="5" height="11" fill="#1f5a35"/>
<rect x="930" y="293" width="3" height="9" fill="#6ba887"/>
<rect x="938" y="291" width="1" height="5" fill="#626264"/>
<rect x="938" y="314" width="1" height="26" fill="#626264"/>
<rect x="936" y="296" width="5" height="18" fill="#521a12"/>
<rect x="937" y="297" width="3" height="16" fill="#e0573f"/>
<rect x="946" y="296" width="1" height="17" fill="#626264"/>
<rect x="946" y="381" width="1" height="15" fill="#626264"/>
<rect x="944" y="313" width="5" height="68" fill="#521a12"/>
<rect x="945" y="314" width="3" height="66" fill="#e0573f"/>
<rect x="954" y="391" width="1" height="7" fill="#626264"/>
<rect x="954" y="460" width="1" height="13" fill="#626264"/>
<rect x="952" y="398" width="5" height="62" fill="#521a12"/>
<rect x="953" y="399" width="3" height="60" fill="#e0573f"/>
<rect x="961" y="405" width="1" height="4" fill="#626264"/>
<rect x="961" y="452" width="1" height="16" fill="#626264"/>
<rect x="959" y="409" width="5" height="43" fill="#1f5a35"/>
<rect x="960" y="410" width="3" height="41" fill="#6ba887"/>
<rect x="969" y="406" width="1" height="6" fill="#626264"/>
<rect x="969" y="418" width="1" height="8" fill="#626264"/>
<rect x="967" y="412" width="5" height="6" fill="#521a12"/>
<rect x="968" y="413" width="3" height="4" fill="#e0573f"/>
<rect x="976" y="406" width="1" height="12" fill="#626264"/>
<rect x="976" y="448" width="1" height="4" fill="#626264"/>
<rect x="974" y="418" width="5" height="30" fill="#521a12"/>
<rect x="975" y="419" width="3" height="28" fill="#e0573f"/>
<rect x="984" y="414" width="1" height="9" fill="#626264"/>
<rect x="982" y="423" width="5" height="21" fill="#1f5a35"/>
<rect x="983" y="424" width="3" height="19" fill="#6ba887"/>
<rect x="992" y="420" width="1" height="8" fill="#626264"/>
<rect x="990" y="428" width="5" height="48" fill="#521a12"/>
<rect x="991" y="429" width="3" height="46" fill="#e0573f"/>
<rect x="999" y="464" width="1" height="8" fill="#626264"/>
<rect x="999" y="478" width="1" height="22" fill="#626264"/>
<rect x="997" y="472" width="5" height="6" fill="#521a12"/>
<rect x="998" y="473" width="3" height="4" fill="#e0573f"/>
<rect x="1007" y="475" width="1" height="9" fill="#626264"/>
<rect x="1005" y="484" width="5" height="16" fill="#521a12"/>
<rect x="1006" y="485" width="3" height="14" fill="#e0573f"/>
<rect x="1015" y="490" width="1" height="2" fill="#626264"/>
<rect x="1015" y="539" width="1" height="8" fill="#626264"/>
<rect x="1013" y="492" width="5" height="47" fill="#521a12"/>
<rect x="1014" y="493" width="3" height="45" fill="#e0573f"/>
<rect x="1022" y="509" width="1" height="5" fill="#626264"/>
<rect x="1022" y="544" width="1" height="18" fill="#626264"/>
<rect x="1020" y="514" width="5" height="30" fill="#1f5a35"/>
<rect x="1021" y="515" width="3" height="28" fill="#6ba887"/>
<rect x="1030" y="499" width="1" height="4" fill="#626264"/>
<rect x="1030" y="520" width="1" height="8" fill="#626264"/>
<rect x="1028" y="503" width="5" height="17" fill="#1f5a35"/>
<rect x="1029" y="504" width="3" height="15" fill="#6ba887"/>
<rect x="1035" y="437" width="5" height="69" fill="#1f5a35"/>
<rect x="1036" y="438" width="3" height="67" fill="#6ba887"/>
<rect x="1045" y="398" width="1" height="21" fill="#626264"/>
<rect x="1045" y="444" width="1" height="6" fill="#626264"/>
<rect x="1043" y="419" width="5" height="25" fill="#1f5a35"/>
<rect x="1044" y="420" width="3" height="23" fill="#6ba887"/>
<rect x="1053" y="412" width="1" height="7" fill="#626264"/>
<rect x="1053" y="422" width="1" height="21" fill="#626264"/>
<rect x="1051" y="419" width="5" height="3" fill="#521a12"/>
<rect x="1052" y="420" width="3" height="1" fill="#e0573f"/>
<rect x="1060" y="367" width="1" height="53" fill="#626264"/>
<rect x="1060" y="424" width="1" height="38" fill="#626264"/>
<rect x="1058" y="420" width="5" height="4" fill="#1f5a35"/>
<rect x="1059" y="421" width="3" height="2" fill="#6ba887"/>
<rect x="1068" y="406" width="1" height="19" fill="#626264"/>
<rect x="1068" y="433" width="1" height="17" fill="#626264"/>
<rect x="1066" y="425" width="5" height="8" fill="#521a12"/>
<rect x="1067" y="426" width="3" height="6" fill="#e0573f"/>
<rect x="1075" y="403" width="1" height="12" fill="#626264"/>
<rect x="1075" y="438" width="1" height="9" fill="#626264"/>
<rect x="1073" y="415" width="5" height="23" fill="#1f5a35"/>
<rect x="1074" y="416" width="3" height="21" fill="#6ba887"/>
<rect x="1083" y="405" width="1" height="10" fill="#626264"/>
<rect x="1081" y="415" width="5" height="14" fill="#521a12"/>
<rect x="1082" y="416" width="3" height="12" fill="#e0573f"/>
<rect x="1091" y="394" width="1" height="35" fill="#626264"/>
<rect x="1091" y="433" width="1" height="9" fill="#626264"/>
<rect x="1089" y="429" width="5" height="4" fill="#1f5a35"/>
<rect x="1090" y="430" width="3" height="2" fill="#6ba887"/>
<rect x="1098" y="409" width="1" height="11" fill="#626264"/>
<rect x="1098" y="433" width="1" height="16" fill="#626264"/>
<rect x="1096" y="420" width="5" height="13" fill="#1f5a35"/>
<rect x="1097" y="421" width="3" height="11" fill="#6ba887"/>
<rect x="1106" y="403" width="1" height="7" fill="#626264"/>
<rect x="1106" y="422" width="1" height="9" fill="#626264"/>
<rect x="1104" y="410" width="5" height="12" fill="#1f5a35"/>
<rect x="1105" y="411" width="3" height="10" fill="#6ba887"/>
<rect x="1114" y="345" width="1" height="5" fill="#626264"/>
<rect x="1114" y="392" width="1" height="5" fill="#626264"/>
<rect x="1112" y="350" width="5" height="42" fill="#1f5a35"/>
<rect x="1113" y="351" width="3" height="40" fill="#6ba887"/>
<rect x="1121" y="323" width="1" height="24" fill="#626264"/>
<rect x="1121" y="352" width="1" height="4" fill="#626264"/>
<rect x="1119" y="347" width="5" height="5" fill="#1f5a35"/>
<rect x="1120" y="348" width="3" height="3" fill="#6ba887"/>
<rect x="1129" y="326" width="1" height="17" fill="#626264"/>
<rect x="1129" y="355" width="1" height="9" fill="#626264"/>
<rect x="1127" y="343" width="5" height="12" fill="#1f5a35"/>
<rect x="1128" y="344" width="3" height="10" fill="#6ba887"/>
<rect x="1136" y="333" width="1" height="15" fill="#626264"/>
<rect x="1134" y="348" width="5" height="9" fill="#521a12"/>
<rect x="1135" y="349" width="3" height="7" fill="#e0573f"/>
<rect x="1144" y="347" width="1" height="1" fill="#626264"/>
<rect x="1144" y="362" width="1" height="6" fill="#626264"/>
<rect x="1142" y="348" width="5" height="14" fill="#1f5a35"/>
<rect x="1143" y="349" width="3" height="12" fill="#6ba887"/>
<rect x="1152" y="312" width="1" height="20" fill="#626264"/>
<rect x="1152" y="350" width="1" height="27" fill="#626264"/>
<rect x="1150" y="332" width="5" height="18" fill="#1f5a35"/>
<rect x="1151" y="333" width="3" height="16" fill="#6ba887"/>
<rect x="1159" y="333" width="1" height="4" fill="#626264"/>
<rect x="1159" y="357" width="1" height="38" fill="#626264"/>
<rect x="1157" y="337" width="5" height="20" fill="#521a12"/>
<rect x="1158" y="338" width="3" height="18" fill="#e0573f"/>
<rect x="1167" y="322" width="1" height="15" fill="#626264"/>
<rect x="1167" y="348" width="1" height="20" fill="#626264"/>
<rect x="1165" y="337" width="5" height="11" fill="#1f5a35"/>
<rect x="1166" y="338" width="3" height="9" fill="#6ba887"/>
<rect x="1174" y="318" width="1" height="17" fill="#626264"/>
<rect x="1174" y="339" width="1" height="27" fill="#626264"/>
<rect x="1172" y="335" width="5" height="4" fill="#521a12"/>
<rect x="1173" y="336" width="3" height="2" fill="#e0573f"/>
<rect x="1182" y="312" width="1" height="23" fill="#626264"/>
<rect x="1182" y="340" width="1" height="5" fill="#626264"/>
<rect x="1180" y="335" width="5" height="5" fill="#521a12"/>
<rect x="1181" y="336" width="3" height="3" fill="#e0573f"/>
<rect x="1190" y="327" width="1" height="18" fill="#626264"/>
<rect x="1190" y="346" width="1" height="6" fill="#626264"/>
<rect x="1188" y="345" width="5" height="1" fill="#1f5a35"/>
<rect x="1197" y="318" width="1" height="16" fill="#626264"/>
<rect x="1197" y="344" width="1" height="37" fill="#626264"/>
<rect x="1195" y="334" width="5" height="10" fill="#1f5a35"/>
<rect x="1196" y="335" width="3" height="8" fill="#6ba887"/>
<rect x="1205" y="311" width="1" height="21" fill="#626264"/>
<rect x="1205" y="372" width="1" height="3" fill="#626264"/>
<rect x="1203" y="332" width="5" height="40" fill="#521a12"/>
<rect x="1204" y="333" width="3" height="38" fill="#e0573f"/>
<rect x="1212" y="293" width="1" height="6" fill="#626264"/>
<rect x="1212" y="373" width="1" height="12" fill="#626264"/>
<rect x="1210" y="299" width="5" height="74" fill="#1f5a35"/>
<rect x="1211" y="300" width="3" height="72" fill="#6ba887"/>
<rect x="1220" y="249" width="1" height="12" fill="#626264"/>
<rect x="1220" y="288" width="1" height="10" fill="#626264"/>
<rect x="1218" y="261" width="5" height="27" fill="#1f5a35"/>
<rect x="1219" y="262" width="3" height="25" fill="#6ba887"/>
<rect x="1228" y="250" width="1" height="13" fill="#626264"/>
<rect x="1226" y="263" width="5" height="22" fill="#521a12"/>
<rect x="1227" y="264" width="3" height="20" fill="#e0573f"/>
<rect x="1235" y="284" width="1" height="2" fill="#626264"/>
<rect x="1235" y="294" width="1" height="7" fill="#626264"/>
<rect x="1233" y="286" width="5" height="8" fill="#521a12"/>
<rect x="1234" y="287" width="3" height="6" fill="#e0573f"/>
<rect x="1243" y="263" width="1" height="23" fill="#626264"/>
<rect x="1243" y="297" width="1" height="3" fill="#626264"/>
<rect x="1241" y="286" width="5" height="11" fill="#1f5a35"/>
<rect x="1242" y="287" width="3" height="9" fill="#6ba887"/>
<rect x="1251" y="276" width="1" height="7" fill="#626264"/>
<rect x="1251" y="291" width="1" height="10" fill="#626264"/>
<rect x="1249" y="283" width="5" height="8" fill="#521a12"/>
<rect x="1250" y="284" width="3" height="6" fill="#e0573f"/>
<rect x="1258" y="276" width="1" height="11" fill="#626264"/>
<rect x="1258" y="300" width="1" height="6" fill="#626264"/>
<rect x="1256" y="287" width="5" height="13" fill="#1f5a35"/>
<rect x="1257" y="288" width="3" height="11" fill="#6ba887"/>
<rect x="1266" y="221" width="1" height="7" fill="#626264"/>
<rect x="1266" y="288" width="1" height="36" fill="#626264"/>
<rect x="1264" y="228" width="5" height="60" fill="#1f5a35"/>
<rect x="1265" y="229" width="3" height="58" fill="#6ba887"/>
<rect x="1273" y="220" width="1" height="8" fill="#626264"/>
<rect x="1273" y="242" width="1" height="4" fill="#626264"/>
<rect x="1271" y="228" width="5" height="14" fill="#521a12"/>
<rect x="1272" y="229" width="3" height="12" fill="#e0573f"/>
<rect x="1281" y="239" width="1" height="7" fill="#626264"/>
<rect x="1281" y="276" width="1" height="6" fill="#626264"/>
<rect x="1279" y="246" width="5" height="30" fill="#521a12"/>
<rect x="1280" y="247" width="3" height="28" fill="#e0573f"/>
<rect x="1289" y="243" width="1" height="25" fill="#626264"/>
<rect x="1289" y="275" width="1" height="9" fill="#626264"/>
<rect x="1287" y="268" width="5" height="7" fill="#521a12"/>
<rect x="1288" y="269" width="3" height="5" fill="#e0573f"/>
<rect x="1296" y="268" width="1" height="11" fill="#626264"/>
<rect x="1296" y="286" width="1" height="2" fill="#626264"/>
<rect x="1294" y="279" width="5" height="7" fill="#1f5a35"/>
<rect x="1295" y="280" width="3" height="5" fill="#6ba887"/>
<rect x="1304" y="265" width="1" height="6" fill="#626264"/>
<rect x="1304" y="294" width="1" height="20" fill="#626264"/>
<rect x="1302" y="271" width="5" height="23" fill="#521a12"/>
<rect x="1303" y="272" width="3" height="21" fill="#e0573f"/>
<rect x="1311" y="280" width="1" height="14" fill="#626264"/>
<rect x="1311" y="300" width="1" height="2" fill="#626264"/>
<rect x="1309" y="294" width="5" height="6" fill="#521a12"/>
<rect x="1310" y="295" width="3" height="4" fill="#e0573f"/>
<rect x="1319" y="286" width="1" height="1" fill="#626264"/>
<rect x="1319" y="306" width="1" height="48" fill="#626264"/>
<rect x="1317" y="287" width="5" height="19" fill="#1f5a35"/>
<rect x="1318" y="288" width="3" height="17" fill="#6ba887"/>
</g>
<line x1="3" y1="287.5" x2="1396" y2="287.5" stroke="#4f9f6e" stroke-width="1" stroke-dasharray="1 3" clip-path="url(#cm)"/>
<g clip-path="url(#ca)"><polyline points="2.5,704.4 10.5,702.6 17.5,705.1 25.5,706.3 33.5,706.3 40.5,705.6 48.5,705.9 55.5,705.6 63.5,707.3 71.5,709.2 78.5,708.7 86.5,704.4 93.5,702.0 101.5,700.5 109.5,699.4 116.5,699.4 124.5,701.5 132.5,703.0 139.5,703.7 147.5,703.4 154.5,700.1 162.5,701.1 170.5,702.3 177.5,703.4 185.5,704.4 192.5,697.7 200.5,696.5 208.5,699.4 215.5,699.8 223.5,698.4 230.5,700.1 238.5,697.7 246.5,700.1 253.5,699.1 261.5,702.7 269.5,699.8 276.5,701.3 284.5,700.5 291.5,702.3 299.5,702.6 307.5,703.4 314.5,705.1 322.5,707.3 329.5,706.3 337.5,705.1 345.5,703.4 352.5,702.3 360.5,706.6 367.5,702.6 375.5,700.5 383.5,699.4 390.5,695.4 398.5,699.4 406.5,698.2 413.5,700.1 421.5,702.6 428.5,704.9 436.5,704.4 444.5,705.4 451.5,706.6 459.5,703.7 466.5,706.9 474.5,709.2 482.5,710.6 489.5,708.3 497.5,709.7 505.5,710.9 512.5,710.6 520.5,712.1 527.5,710.9 535.5,709.5 543.5,708.7 550.5,704.4 558.5,705.1 565.5,703.7 573.5,704.4 581.5,700.1 588.5,700.8 596.5,701.5 603.5,703.3 611.5,698.2 619.5,699.4 626.5,701.1 634.5,702.6 642.5,702.3 649.5,701.3 657.5,704.4 664.5,702.0 672.5,698.2 680.5,700.5 687.5,703.0 695.5,704.4 702.5,703.4 710.5,699.8 718.5,701.1 725.5,698.7 733.5,692.2 741.5,694.4 748.5,696.5 756.5,699.0 763.5,699.7 771.5,703.0 779.5,705.9 786.5,693.9 794.5,695.1 801.5,696.2 809.5,695.4 817.5,696.5 824.5,697.9 832.5,697.2 839.5,700.1 847.5,702.0 855.5,704.6 862.5,703.4 870.5,704.1 878.5,701.8 885.5,701.8 893.5,701.5 900.5,702.6 908.5,704.9 916.5,701.1 923.5,699.1 931.5,702.6 938.5,702.3 946.5,695.4 954.5,690.5 961.5,689.3 969.5,694.4 976.5,695.8 984.5,697.7 992.5,696.9 999.5,699.1 1007.5,702.6 1015.5,701.3 1022.5,700.8 1030.5,703.7 1037.5,700.4 1045.5,700.1 1053.5,703.0 1060.5,696.5 1068.5,697.7 1075.5,699.1 1083.5,702.6 1091.5,702.6 1098.5,703.7 1106.5,706.6 1114.5,703.7 1121.5,705.9 1129.5,707.0 1136.5,710.6 1144.5,713.1 1152.5,710.2 1159.5,707.7 1167.5,707.7 1174.5,707.7 1182.5,709.5 1190.5,711.9 1197.5,709.2 1205.5,706.6 1212.5,700.8 1220.5,700.8 1228.5,702.7 1235.5,706.6 1243.5,708.0 1251.5,710.6 1258.5,712.6 1266.5,705.1 1273.5,707.6 1281.5,708.0 1289.5,708.7 1296.5,712.3 1304.5,711.3 1311.5,714.5 1319.5,711.2" fill="none" stroke="#b22833" stroke-width="1" stroke-linejoin="round"/></g>
<g clip-path="url(#cc)"><polyline points="2.5,769.9 10.5,761.3 17.5,761.3 25.5,763.4 33.5,757.0 40.5,750.5 48.5,751.5 55.5,752.6 63.5,750.9 71.5,743.3 78.5,742.8 86.5,761.3 93.5,772.8 101.5,781.4 109.5,795.8 116.5,798.7 124.5,790.0 132.5,781.1 139.5,776.4 147.5,769.2 154.5,763.8 162.5,759.8 170.5,757.7 177.5,755.8 185.5,757.7 192.5,753.8 200.5,749.7 208.5,748.3 215.5,741.8 223.5,736.8 230.5,734.6 238.5,740.1 246.5,740.1 253.5,736.8 261.5,738.5 269.5,741.1 276.5,737.1 284.5,733.2 291.5,734.6 299.5,732.5 307.5,732.9 314.5,733.3 322.5,736.5 329.5,736.2 337.5,736.2 345.5,734.4 352.5,730.8 360.5,733.9 367.5,741.1 375.5,750.5 383.5,746.9 390.5,736.8 398.5,733.9 406.5,725.6 413.5,725.3 421.5,725.3 428.5,730.8 436.5,739.0 444.5,740.4 451.5,739.4 459.5,734.6 466.5,734.2 474.5,738.5 482.5,741.1 489.5,740.0 497.5,735.4 505.5,735.1 512.5,731.5 520.5,728.9 527.5,722.4 535.5,729.6 543.5,738.0 550.5,728.9 558.5,727.0 565.5,733.6 573.5,740.4 581.5,744.0 588.5,748.0 596.5,753.8 603.5,757.2 611.5,747.6 619.5,741.8 626.5,748.0 634.5,751.5 642.5,747.9 649.5,753.8 657.5,757.2 664.5,774.9 672.5,767.3 680.5,748.3 687.5,739.0 695.5,745.1 702.5,755.5 710.5,745.1 718.5,729.3 725.5,761.3 733.5,787.9 741.5,788.3 748.5,773.5 756.5,770.2 763.5,763.8 771.5,760.1 779.5,762.7 786.5,785.7 794.5,786.2 801.5,780.3 809.5,779.2 817.5,780.3 824.5,776.4 832.5,770.2 839.5,769.2 847.5,769.2 855.5,770.2 862.5,772.3 870.5,772.0 878.5,765.9 885.5,763.4 893.5,760.1 900.5,755.5 908.5,751.9 916.5,756.5 923.5,749.7 931.5,742.6 938.5,750.5 946.5,766.3 954.5,791.5 961.5,780.7 969.5,773.5 976.5,775.4 984.5,770.6 992.5,774.2 999.5,775.4 1007.5,774.2 1015.5,776.4 1022.5,773.1 1030.5,768.5 1037.5,760.5 1045.5,755.2 1053.5,754.8 1060.5,751.9 1068.5,753.8 1075.5,750.0 1083.5,747.6 1091.5,745.7 1098.5,745.1 1106.5,742.3 1114.5,728.5 1121.5,725.3 1129.5,729.9 1136.5,733.6 1144.5,735.6 1152.5,734.2 1159.5,741.1 1167.5,738.5 1174.5,739.7 1182.5,739.0 1190.5,742.6 1197.5,744.3 1205.5,747.2 1212.5,738.5 1220.5,722.7 1228.5,724.6 1235.5,732.5 1243.5,730.8 1251.5,736.1 1258.5,738.5 1266.5,730.8 1273.5,728.5 1281.5,739.4 1289.5,741.4 1296.5,746.2 1304.5,750.0 1311.5,751.9 1319.5,758.4" fill="none" stroke="#2962ff" stroke-width="1.1" stroke-linejoin="round"/></g>
<line x1="3" y1="687.5" x2="1456" y2="687.5" stroke="#e0e3eb" stroke-width="1"/>
<line x1="3" y1="717.5" x2="1456" y2="717.5" stroke="#e0e3eb" stroke-width="1"/>
<line x1="3" y1="804.5" x2="1456" y2="804.5" stroke="#3c3f47" stroke-width="1"/>
<line x1="1396.5" y1="3" x2="1396.5" y2="831.6" stroke="#3c3f47" stroke-width="1"/>
<rect x="7" y="7" width="667" height="20" fill="#fff" fill-opacity="0.7"/>
<circle cx="20.9" cy="18.9" r="9" fill="#0b7d66"/>
<text x="16.6" y="23.9" font-size="14" fill="#fff" font-weight="bold" textLength="8.8" lengthAdjust="spacingAndGlyphs">S</text>
<text x="33.5" y="25" font-size="15.6" fill="#5d5f66" textLength="250.7" lengthAdjust="spacingAndGlyphs">US Dollar Index · 1D · PEPPERSTONE</text>
<circle cx="307.8" cy="18.7" r="8.5" fill="#dff1ec"/><circle cx="307.8" cy="18.7" r="4.1" fill="#0b8f72"/>
<text x="333.1" y="23.5" font-size="12.4" fill="#555559" textLength="9.8" lengthAdjust="spacingAndGlyphs">O</text>
<text x="344.0" y="23.5" font-size="12.4" fill="#2e7050" textLength="44.7" lengthAdjust="spacingAndGlyphs">103.930</text>
<text x="394.2" y="23.5" font-size="12.4" fill="#555559" textLength="8.2" lengthAdjust="spacingAndGlyphs">H</text>
<text x="404.3" y="23.5" font-size="12.4" fill="#2e7050" textLength="45.5" lengthAdjust="spacingAndGlyphs">104.170</text>
<text x="456.4" y="23.5" font-size="12.4" fill="#555559" textLength="6.5" lengthAdjust="spacingAndGlyphs">L</text>
<text x="463.8" y="23.5" font-size="12.4" fill="#2e7050" textLength="45.5" lengthAdjust="spacingAndGlyphs">103.310</text>
<text x="514.8" y="23.5" font-size="12.4" fill="#555559" textLength="7.4" lengthAdjust="spacingAndGlyphs">C</text>
<text x="524.4" y="23.5" font-size="12.4" fill="#2e7050" textLength="45.2" lengthAdjust="spacingAndGlyphs">104.160</text>
<text x="576.2" y="23.5" font-size="12.4" fill="#2e7050" textLength="37.3" lengthAdjust="spacingAndGlyphs">+0.151</text>
<text x="619.0" y="23.5" font-size="12.4" fill="#2e7050" textLength="48.5" lengthAdjust="spacingAndGlyphs">(+0.15%)</text>
<rect x="7" y="33" width="175" height="30" fill="#fff" fill-opacity="0.65"/>
<rect x="11.5" y="35.5" width="61" height="23" rx="4" fill="#fff" stroke="#f23645" stroke-width="1"/>
<text x="19.5" y="51.2" font-size="12.4" fill="#f23645" textLength="45.1" lengthAdjust="spacingAndGlyphs">104.160</text>
<text x="80.5" y="51.2" font-size="12.4" fill="#131722" textLength="27.5" lengthAdjust="spacingAndGlyphs">0.050</text>
<rect x="116.5" y="35.5" width="61" height="23" rx="4" fill="#fff" stroke="#2962ff" stroke-width="1"/>
<text x="124.3" y="51.2" font-size="12.4" fill="#2962ff" textLength="45.7" lengthAdjust="spacingAndGlyphs">104.210</text>
<rect x="7" y="66" width="561" height="21" fill="#fff" fill-opacity="0.5"/>
<text x="12.0" y="79.7" font-size="12.6" fill="#555559" textLength="383.0" lengthAdjust="spacingAndGlyphs">MA Ribbon SMA close 20 SMA close 50 SMA close 100 SMA close 200</text>
<text x="403.5" y="79.7" font-size="12.6" fill="#f23645" textLength="45.5" lengthAdjust="spacingAndGlyphs">104.056</text>
<text x="455.1" y="79.7" font-size="12.6" fill="#2962ff" textLength="44.6" lengthAdjust="spacingAndGlyphs">103.113</text>
<text x="507.7" y="79.7" font-size="12.6" fill="#131722" textLength="7.1" lengthAdjust="spacingAndGlyphs">∅</text>
<text x="520.9" y="79.7" font-size="12.6" fill="#131722" textLength="46.0" lengthAdjust="spacingAndGlyphs">103.730</text>
<rect x="12.5" y="89.5" width="28" height="20" rx="3" fill="#fff" stroke="#d1d4dc" stroke-width="1"/>
<polyline points="22.3,101.5 26.5,97.4 30.7,101.5" fill="none" stroke="#131722" stroke-width="1.5"/>
<text x="12.0" y="709.4" font-size="12.6" fill="#555559" textLength="67.4" lengthAdjust="spacingAndGlyphs">ATR 14 RMA</text>
<text x="87.4" y="709.4" font-size="12.6" fill="#b22833" textLength="32.1" lengthAdjust="spacingAndGlyphs">0.562</text>
<rect x="7" y="722.5" width="160" height="23.5" fill="#fff" fill-opacity="0.55"/>
<text x="12.0" y="739.1" font-size="12.6" fill="#555559" textLength="102.1" lengthAdjust="spacingAndGlyphs">CCI 20 hlc3 SMA 5</text>
<text x="121.9" y="739.1" font-size="12.6" fill="#2962ff" textLength="38.9" lengthAdjust="spacingAndGlyphs">−30.69</text>
<path d="M15,775.1 H26.8 V789.8 H21.1 V780.8 H15 Z" fill="#131722"/><circle cx="32" cy="777.9" r="2.85" fill="#131722"/><path d="M38.2,775.1 H44.75 L38.9,789.8 H32.2 Z" fill="#131722"/>
<text x="1404.2" y="616.1" font-size="12" fill="#555559" textLength="41.9" lengthAdjust="spacingAndGlyphs">100.000</text>
<text x="1404.2" y="577.1" font-size="12" fill="#555559" textLength="41.9" lengthAdjust="spacingAndGlyphs">100.500</text>
<text x="1404.2" y="538.1" font-size="12" fill="#555559" textLength="41.9" lengthAdjust="spacingAndGlyphs">101.000</text>
<text x="1404.2" y="499.1" font-size="12" fill="#555559" textLength="41.9" lengthAdjust="spacingAndGlyphs">101.500</text>
<text x="1404.2" y="460.1" font-size="12" fill="#555559" textLength="41.9" lengthAdjust="spacingAndGlyphs">102.000</text>
<text x="1404.2" y="421.1" font-size="12" fill="#555559" textLength="41.9" lengthAdjust="spacingAndGlyphs">102.500</text>
<text x="1404.2" y="382.1" font-size="12" fill="#555559" textLength="41.9" lengthAdjust="spacingAndGlyphs">103.000</text>
<text x="1404.2" y="343.1" font-size="12" fill="#555559" textLength="41.9" lengthAdjust="spacingAndGlyphs">103.500</text>
<text x="1404.2" y="303.1" font-size="12" fill="#555559" textLength="41.9" lengthAdjust="spacingAndGlyphs">104.000</text>
<text x="1404.2" y="264.1" font-size="12" fill="#555559" textLength="41.9" lengthAdjust="spacingAndGlyphs">104.500</text>
<text x="1404.2" y="225.1" font-size="12" fill="#555559" textLength="41.9" lengthAdjust="spacingAndGlyphs">105.000</text>
<text x="1404.2" y="147.1" font-size="12" fill="#555559" textLength="41.9" lengthAdjust="spacingAndGlyphs">106.000</text>
<text x="1404.2" y="108.1" font-size="12" fill="#555559" textLength="41.9" lengthAdjust="spacingAndGlyphs">106.500</text>
<text x="1404.2" y="69.1" font-size="12" fill="#555559" textLength="41.9" lengthAdjust="spacingAndGlyphs">107.000</text>
<rect x="1389" y="36" width="8" height="2" fill="#000"/>
<path d="M1396,29.3 h53.8 a2,2 0 0 1 2,2 v12.9 a2,2 0 0 1 -2,2 h-53.8 z" fill="#000"/>
<text x="1404.1" y="42.3" font-size="12.6" fill="#fff" font-weight="bold" textLength="42.3" lengthAdjust="spacingAndGlyphs">107.362</text>
<rect x="1389" y="77" width="8" height="2" fill="#000"/>
<path d="M1396,70.3 h53.8 a2,2 0 0 1 2,2 v12.9 a2,2 0 0 1 -2,2 h-53.8 z" fill="#000"/>
<text x="1404.1" y="83.3" font-size="12.6" fill="#fff" font-weight="bold" textLength="42.3" lengthAdjust="spacingAndGlyphs">106.837</text>
<rect x="1389" y="182" width="8" height="2" fill="#000"/>
<path d="M1396,169.0 h53.8 a2,2 0 0 1 2,2 v12.9 a2,2 0 0 1 -2,2 h-53.8 z" fill="#000"/>
<text x="1404.1" y="182.0" font-size="12.6" fill="#fff" font-weight="bold" textLength="42.3" lengthAdjust="spacingAndGlyphs">105.484</text>
<rect x="1389" y="193" width="8" height="2" fill="#000"/>
<path d="M1396,186.0 h53.8 a2,2 0 0 1 2,2 v12.9 a2,2 0 0 1 -2,2 h-53.8 z" fill="#000"/>
<text x="1404.1" y="199.0" font-size="12.6" fill="#fff" font-weight="bold" textLength="42.3" lengthAdjust="spacingAndGlyphs">105.349</text>
<rect x="1389" y="247" width="8" height="2" fill="#000"/>
<path d="M1396,240.2 h53.8 a2,2 0 0 1 2,2 v12.9 a2,2 0 0 1 -2,2 h-53.8 z" fill="#000"/>
<text x="1404.1" y="253.2" font-size="12.6" fill="#fff" font-weight="bold" textLength="42.3" lengthAdjust="spacingAndGlyphs">104.658</text>
<rect x="1389" y="651" width="8" height="2" fill="#000"/>
<path d="M1396,644.3 h46.6 a2,2 0 0 1 2,2 v12.9 a2,2 0 0 1 -2,2 h-46.6 z" fill="#000"/>
<text x="1403.9" y="657.3" font-size="12.6" fill="#fff" font-weight="bold" textLength="36.1" lengthAdjust="spacingAndGlyphs">99.495</text>
<rect x="1397" y="3" width="59" height="34.2" fill="#fff"/>
<rect x="1400.5" y="7.5" width="51" height="25" rx="4" fill="#fff" stroke="#e0e3eb" stroke-width="1"/>
<text x="1404.1" y="24" font-size="12.6" fill="#131722" textLength="20.6" lengthAdjust="spacingAndGlyphs">USD</text>
<polyline points="1442,19.2 1444.4,21.6 1446.8,19.2" fill="none" stroke="#131722" stroke-width="1.2"/>
<text x="46.9" y="821.9" font-size="12.4" fill="#555559" textLength="16.9" lengthAdjust="spacingAndGlyphs">Jul</text>
<text x="205.2" y="821.9" font-size="12.4" fill="#555559" textLength="20.4" lengthAdjust="spacingAndGlyphs">Aug</text>
<text x="293.3" y="821.9" font-size="12.4" fill="#555559" textLength="12.1" lengthAdjust="spacingAndGlyphs">16</text>
<text x="380.7" y="821.9" font-size="12.4" fill="#555559" textLength="19.6" lengthAdjust="spacingAndGlyphs">Sep</text>
<text x="540.7" y="821.9" font-size="12.4" fill="#555559" textLength="19.0" lengthAdjust="spacingAndGlyphs">Oct</text>
<text x="628.1" y="821.9" font-size="12.4" fill="#555559" textLength="12.1" lengthAdjust="spacingAndGlyphs">17</text>
<text x="707.6" y="821.9" font-size="12.4" fill="#555559" textLength="20.7" lengthAdjust="spacingAndGlyphs">Nov</text>
<text x="795.0" y="821.9" font-size="12.4" fill="#555559" textLength="12.8" lengthAdjust="spacingAndGlyphs">16</text>
<text x="875.5" y="821.9" font-size="12.4" fill="#555559" textLength="20.0" lengthAdjust="spacingAndGlyphs">Dec</text>
<text x="1023.4" y="821.9" font-size="12.4" fill="#555559" font-weight="bold" textLength="28.2" lengthAdjust="spacingAndGlyphs">2024</text>
<text x="1115.2" y="821.9" font-size="12.4" fill="#555559" textLength="12.1" lengthAdjust="spacingAndGlyphs">17</text>
<text x="1195.1" y="821.9" font-size="12.4" fill="#555559" textLength="19.6" lengthAdjust="spacingAndGlyphs">Feb</text>
<polygon points="1420.5,818.4 1423.6,813.2 1429.8,813.2 1432.9,818.4 1429.8,823.6 1423.6,823.6" fill="none" stroke="#131722" stroke-width="1.2"/><circle cx="1426.7" cy="818.4" r="2" fill="none" stroke="#131722" stroke-width="1.2"/>
<g filter="url(#wsh)"><text transform="translate(1211,790) scale(1,0.93) skewX(-15)" x="0" y="0" font-family="'Noto Sans CJK SC', 'WenQuanYi Zen Hei', sans-serif" font-weight="900" font-size="60.5" fill="#ffffff" stroke="#ffffff" stroke-width="0.8" stroke-linejoin="round">海马财经</text></g>
<g filter="url(#bsh)"><text transform="translate(0,828.4) skewX(-13)" x="1223.2 1249.1 1277.5 1302.6 1322.7 1354.5 1379.0 1399.6 1428.0" y="0" font-weight="bold" font-size="33" fill="#8db1ef" stroke="#8db1ef" stroke-width="1.6" stroke-linejoin="round">zzrt01.cn</text></g>
<text x="1354.4" y="821.9" font-size="12.4" fill="#555559" textLength="20.7" lengthAdjust="spacingAndGlyphs">Mar</text>
<text x="1404.0" y="726.7" font-size="12" fill="#555559" textLength="35.9" lengthAdjust="spacingAndGlyphs">200.00</text>
<text x="1404.1" y="757.7" font-size="12" fill="#555559" textLength="23.4" lengthAdjust="spacingAndGlyphs">0.00</text>
<text x="1404.1" y="788.9" font-size="12" fill="#555559" textLength="41.9" lengthAdjust="spacingAndGlyphs">−200.00</text>
</svg></body></html>
